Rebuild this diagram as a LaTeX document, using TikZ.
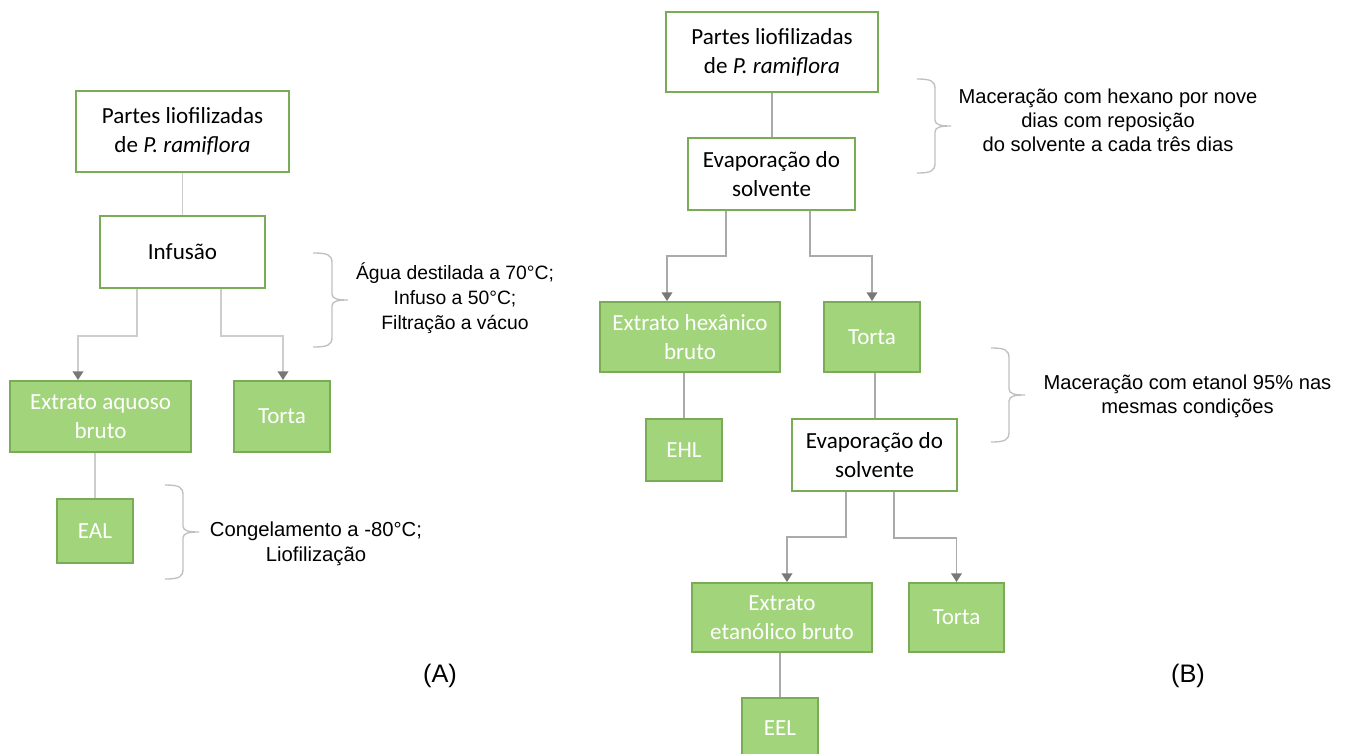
\documentclass[tikz,border=0pt]{standalone}
\usepackage{fontspec}
\setmainfont{Carlito}
\newfontfamily\arialf{Liberation Sans}
\usetikzlibrary{calc,arrows.meta}
\definecolor{gfill}{RGB}{162,212,123}
\definecolor{gbord}{RGB}{122,172,88}
\definecolor{lineA}{RGB}{205,205,205}
\definecolor{lineB}{RGB}{170,170,170}
\definecolor{tipgray}{RGB}{120,120,120}
\definecolor{bracegray}{RGB}{192,192,192}
\tikzset{
  boxbase/.style={draw=gbord, line width=1.5pt, inner sep=0pt, align=center,
    font=\fontsize{17.3}{21.75}\selectfont},
  wbox/.style={boxbase, fill=white, text=black},
  gbox/.style={boxbase, fill=gfill, text=white},
  lnA/.style={draw=lineA, line width=1.1pt},
  lnB/.style={draw=lineB, line width=1.1pt},
  arrA/.style={lnA, -{Triangle[width=8pt,length=6.5pt,color=tipgray]}},
  arrB/.style={lnB, -{Triangle[width=8pt,length=6.5pt,color=tipgray]}},
  note/.style={align=center, font=\arialf\fontsize{14.5}{18.75}\selectfont},
  noteB/.style={align=center, font=\arialf\fontsize{15.1}{17.8}\selectfont},
  panel/.style={font=\arialf\fontsize{19}{22}\selectfont},
  bracestyle/.style={draw=bracegray, line width=1pt}
}
\newcommand\mybrace[4]{% x0, ytop, ybottom, xline
  \pgfmathsetmacro\ym{(#2+#3)/2}
  \draw[bracestyle] (#1,#2) .. controls (#4-4,#2) and (#4,#2+2) .. (#4,#2+10)
    -- (#4,\ym-6) .. controls (#4,\ym-1) and (#4+6,\ym) .. (#4+16,\ym)
    .. controls (#4+6,\ym) and (#4,\ym+1) .. (#4,\ym+6)
    -- (#4,#3-10) .. controls (#4,#3-2) and (#4-4,#3) .. (#1,#3);
}
\begin{document}
\begin{tikzpicture}[x=0.75pt,y=-0.75pt]
\useasboundingbox (0,0) rectangle (1345,753);
% ---------- Part A ----------
\node[wbox, minimum width=159.75pt, minimum height=60.75pt] (a1) at (182.5,131.5)
  {Partes liofilizadas\\de \textit{P. ramiflora}};
\node[wbox, minimum width=123.75pt, minimum height=54pt] (inf) at (182.5,252) {Infusão};
\node[gbox, minimum width=135.75pt, minimum height=53.25pt] (ea) at (100.5,416.5)
  {Extrato aquoso\\bruto};
\node[gbox, minimum width=72pt, minimum height=53.25pt] (ta) at (282,416.5) {Torta};
\node[gbox, minimum width=57pt, minimum height=48pt] (eal) at (95,531) {EAL};

\draw[lnA] (a1.south) -- (inf.north);
\draw[arrA] ($(inf.south)+(-45.5,0)$) -- ++(0,47) -| ($(ea.north)+(-22.5,0)$);
\draw[arrA] ($(inf.south)+(38.5,0)$) -- ++(0,47) -| ($(ta.north)+(1,0)$);
\draw[lnA] (ea.south -| eal.north) -- (eal.north);

\mybrace{313}{253}{347}{332}
\mybrace{165}{485}{579}{183}
\node[note] (ta1) at (455,298) {Água destilada a 70°C;\\Infuso a 50°C;\\Filtração a vácuo};
\node[note, font=\arialf\fontsize{15.2}{18.75}\selectfont] (ta2) at (316,543.5) {Congelamento a -80°C;\\Liofilização};
\node[panel] (lA) at (440,676) {(A)};

% ---------- Part B ----------
\node[wbox, minimum width=159pt, minimum height=60pt] (b1) at (772,52)
  {Partes liofilizadas\\de \textit{P. ramiflora}};
\node[wbox, minimum width=125.25pt, minimum height=54pt] (b2) at (771.5,174)
  {Evaporação do\\solvente};
\node[gbox, minimum width=135pt, minimum height=52.5pt] (eh) at (690,337)
  {Extrato hexânico\\bruto};
\node[gbox, minimum width=72pt, minimum height=52.5pt] (tb) at (872,337) {Torta};
\node[gbox, minimum width=57pt, minimum height=46.5pt] (ehl) at (684,450) {EHL};
\node[wbox, minimum width=123.75pt, minimum height=54pt] (b3) at (874.5,455)
  {Evaporação do\\solvente};
\node[gbox, minimum width=135pt, minimum height=51.75pt] (ee) at (782,617.5)
  {Extrato\\etanólico bruto};
\node[gbox, minimum width=71.25pt, minimum height=51.75pt] (tc) at (956.5,617.5) {Torta};
\node[gbox, minimum width=57pt, minimum height=45pt] (eel) at (780,728) {EEL};

\draw[lnB] (b1.south) -- (b1.south |- b2.north);
\draw[arrB] ($(b2.south)+(-45.5,0)$) -- ++(0,45) -| ($(eh.north)+(-23,0)$);
\draw[arrB] ($(b2.south)+(38.5,0)$) -- ++(0,45) -| (tb.north);
\draw[lnB] (eh.south -| ehl.north) -- (ehl.north);
\draw[lnB] ($(tb.south)+(3,0)$) -- ($(b3.north)+(0.5,0)$);
\draw[arrB] ($(b3.south)+(-28.5,0)$) -- ++(0,45) -| ($(ee.north)+(5,0)$);
\draw[arrB] ($(b3.south)+(19.5,0)$) -- ++(0,46) -| (tc.north);
\draw[lnB] (ee.south -| eel.north) -- (eel.north);

\mybrace{917}{79}{173}{935}
\mybrace{991}{348}{442}{1009}
\node[noteB] (tb1) at (1108,120.5) {Maceração com hexano por nove\\dias com reposição\\do solvente a cada três dias};
\node[noteB, font=\arialf\fontsize{15.1}{18}\selectfont] (tb2) at (1187.5,396) {Maceração com etanol 95\% nas\\mesmas condições};
\node[panel] (lB) at (1188,676) {(B)};
\end{tikzpicture}
\end{document}
